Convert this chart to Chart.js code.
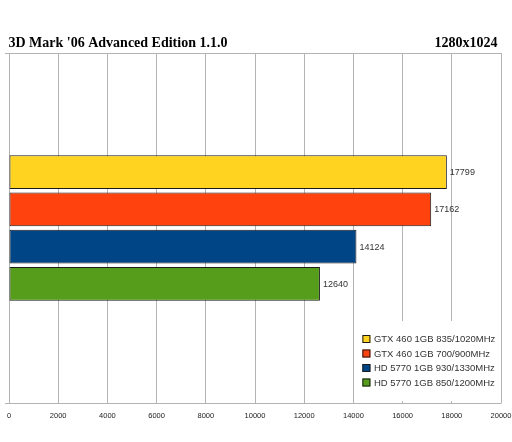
<!DOCTYPE html>
<html>
<head>
<meta charset="utf-8">
<script src="https://cdn.jsdelivr.net/npm/chart.js@4/dist/chart.umd.min.js"></script>
<style>
  html, body { margin:0; padding:0; background:#fff; }
  #wrap { width:512px; height:442px; position:relative; }
</style>
</head>
<body>
<div id="wrap"><canvas id="chart" width="512" height="442"></canvas></div>
<script>
// datos del grafico
var titulo = "3D Mark '06 Advanced Edition 1.1.0";
var resolucion = "1280x1024";
var categorias = [""];
var tarjetas = ["GTX 460 1GB 835/1020MHz", "GTX 460 1GB 700/900MHz", "HD 5770 1GB 930/1330MHz", "HD 5770 1GB 850/1200MHz"];
var puntajes = [17799, 17162, 14124, 12640];
var colores = ["#ffd320", "#ff420e", "#004586", "#579d1c"];
var marcas = [0, 2000, 4000, 6000, 8000, 10000, 12000, 14000, 16000, 18000, 20000];

var datasets = [];
for (var i = 0; i < tarjetas.length; i++) {
    datasets.push({
        label: tarjetas[i],
        data: [puntajes[i]],
        backgroundColor: colores[i],
        borderColor: "#1a1a1a",
        borderWidth: 1,
        borderSkipped: false,
        barPercentage: 0.91,
        categoryPercentage: 0.426
    });
}

// titulo y resolucion arriba
var pluginTitulo = {
    id: "titulo",
    afterDraw: function(chart) {
        var ctx = chart.ctx;
        ctx.save();
        ctx.fillStyle = "#000";
        ctx.font = "bold 14px 'Liberation Serif', 'Times New Roman', serif";
        ctx.textBaseline = "alphabetic";
        ctx.textAlign = "left";
        ctx.fillText(titulo, 8.5, 46.5);
        ctx.textAlign = "right";
        ctx.fillText(resolucion, 497.5, 46.5);
        ctx.restore();
    }
};

// lineas horizontales arriba y abajo del area
var pluginBordes = {
    id: "bordes",
    beforeDatasetsDraw: function(chart) {
        var ctx = chart.ctx;
        var area = chart.chartArea;
        ctx.save();
        ctx.strokeStyle = "#b3b3b3";
        ctx.lineWidth = 1;
        ctx.beginPath();
        ctx.moveTo(area.left - 4, Math.round(area.top) + 0.5);
        ctx.lineTo(area.right, Math.round(area.top) + 0.5);
        ctx.moveTo(area.left - 4, Math.round(area.bottom) + 0.5);
        ctx.lineTo(area.right + 0.5, Math.round(area.bottom) + 0.5);
        ctx.stroke();
        ctx.restore();
    }
};

// numeros al final de cada barra
var pluginValores = {
    id: "valores",
    afterDatasetsDraw: function(chart) {
        var ctx = chart.ctx;
        ctx.save();
        ctx.fillStyle = "#333";
        ctx.font = "9px 'Liberation Sans', Arial, sans-serif";
        ctx.textBaseline = "middle";
        ctx.textAlign = "left";
        chart.data.datasets.forEach(function(ds, i) {
            var bar = chart.getDatasetMeta(i).data[0];
            ctx.fillText(ds.data[0], bar.x + 3, bar.y + 0.5);
        });
        ctx.restore();
    }
};

// leyenda dentro del area
var pluginLeyenda = {
    id: "leyenda",
    afterDraw: function(chart) {
        var ctx = chart.ctx;
        var area = chart.chartArea;
        var xs = chart.scales.x;
        var izq = xs.getPixelForValue(14000) + 1;
        var der = area.right - 1;
        var arriba = 321;
        var abajo = area.bottom - 2;
        ctx.save();
        ctx.fillStyle = "#fff";
        ctx.fillRect(izq, arriba, der - izq, abajo - arriba);
        ctx.font = "9.5px 'Liberation Sans', Arial, sans-serif";
        ctx.textBaseline = "middle";
        ctx.textAlign = "left";
        chart.data.datasets.forEach(function(ds, i) {
            var y = arriba + 18 + i * 14.5;
            ctx.fillStyle = ds.backgroundColor;
            ctx.fillRect(izq + 8, y - 4, 8, 8);
            ctx.strokeStyle = "#1a1a1a";
            ctx.lineWidth = 1;
            ctx.strokeRect(izq + 8.5, y - 3.5, 7, 7);
            ctx.fillStyle = "#333";
            ctx.fillText(ds.label, izq + 19.5, y + 0.5);
        });
        ctx.restore();
    }
};

var canvas = document.getElementById("chart").getContext("2d");
window.bar = new Chart(canvas, {
    type: "bar",
    data: { labels: categorias, datasets: datasets },
    options: {
        indexAxis: "y",
        responsive: false,
        animation: false,
        layout: { padding: { top: 53, left: 9, right: 11, bottom: 14 } },
        plugins: {
            legend: { display: false },
            title: { display: false },
            tooltip: { enabled: false }
        },
        scales: {
            x: {
                min: 0,
                max: 20000,
                afterBuildTicks: function(scale) {
                    scale.ticks = marcas.map(function(v) { return { value: v }; });
                },
                afterFit: function(scale) {
                    scale.paddingLeft = 0;
                    scale.paddingRight = 0;
                },
                grid: { color: "#b3b3b3", drawTicks: false },
                border: { display: false },
                ticks: {
                    color: "#222",
                    padding: 8,
                    maxRotation: 0,
                    autoSkip: false,
                    callback: function(v) { return String(v); },
                    font: { family: "'Liberation Sans', Arial, sans-serif", size: 7.5 }
                }
            },
            y: {
                display: false
            }
        }
    },
    plugins: [pluginTitulo, pluginBordes, pluginValores, pluginLeyenda]
});
</script>
</body>
</html>
